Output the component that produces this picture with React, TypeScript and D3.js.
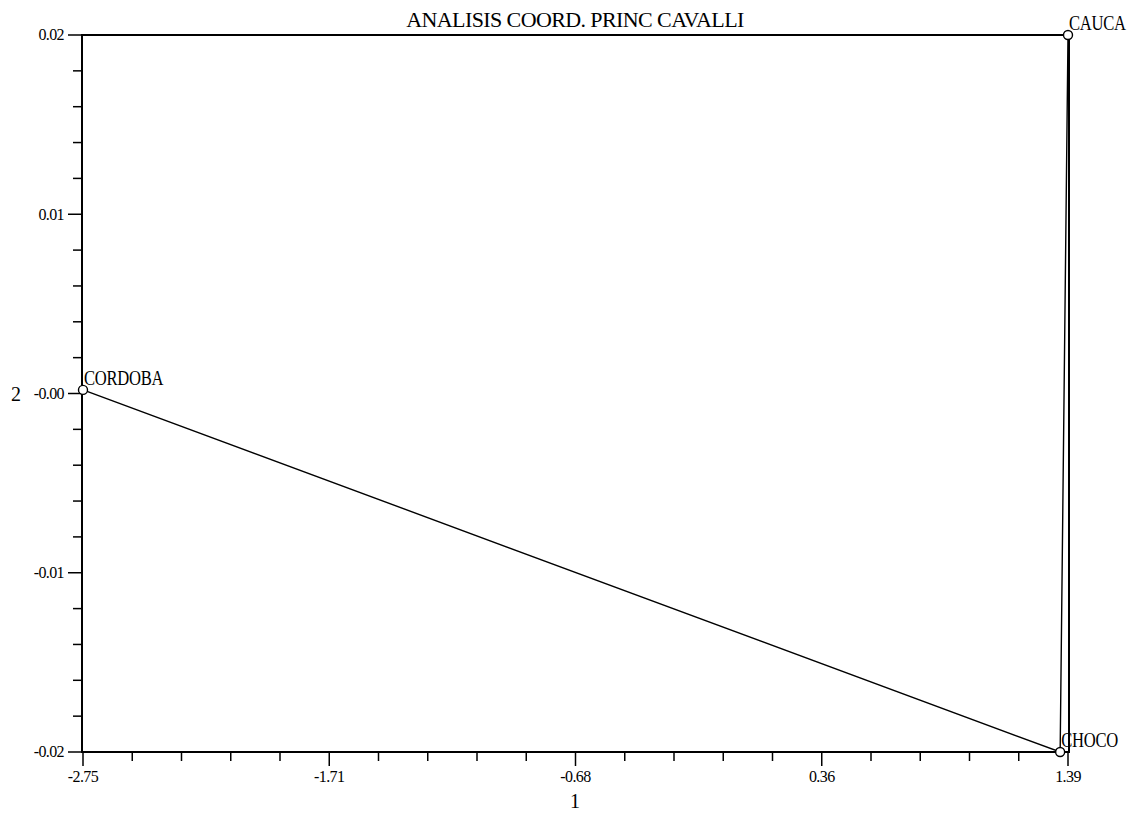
import React from "react";
import * as d3 from "d3";

const title = "ANALISIS COORD. PRINC CAVALLI";
const names = ["CORDOBA", "CHOCO", "CAUCA"];
const dim1 = [-2.75, 1.357, 1.39];
const dim2 = [0.0002, -0.02, 0.02];
const xTicks = [-2.75, -1.715, -0.68, 0.355, 1.39];
const xTickLabels = ["-2.75", "-1.71", "-0.68", "0.36", "1.39"];
const yTicks = [0.02, 0.01, 0.0, -0.01, -0.02];
const yTickLabels = ["0.02", "0.01", "-0.00", "-0.01", "-0.02"];
const xTitle = "1";
const yTitle = "2";

export default function App() {
	const width = 1141;
	const height = 815;
	const left = 83;
	const right = 1068;
	const top = 35;
	const bottom = 752;
	const font = "'Liberation Serif', 'Times New Roman', serif";

	const x = d3.scaleLinear().domain([-2.75, 1.39]).range([left, right]);
	const y = d3.scaleLinear().domain([-0.02, 0.02]).range([bottom, top]);

	// minor ticks: 5 per major interval
	const xMinor = d3.range(21).map((i) => -2.75 + (i * (1.39 + 2.75)) / 20);
	const yMinor = d3.range(21).map((i) => -0.02 + (i * 0.04) / 20);

	const points: [number, number][] = dim1.map((d, i) => [x(d), y(dim2[i])]);
	const line = d3.line();
	const pathD = line(points);

	return (
		<svg
			width={width}
			height={height}
			style={{ position: "absolute", left: 0, top: 0, background: "#fff" }}
			fontFamily={font}
		>
			<rect width={width} height={height} fill="#fff" />
			{/* title */}
			<text
				x={575}
				y={27}
				textAnchor="middle"
				fontSize={22}
				letterSpacing={-0.6}
				fill="#000"
			>
				{title}
			</text>

			{/* frame */}
			<rect
				x={left - 1}
				y={top}
				width={right - left + 2}
				height={bottom - top}
				fill="none"
				stroke="#000"
				strokeWidth={2}
			/>

			{/* y axis ticks */}
			<g stroke="#000" strokeWidth={1.5}>
				{yMinor.map((t, i) => (
					<line
						key={i}
						x1={i % 5 === 0 ? 68 : 73}
						x2={left - 1}
						y1={y(t)}
						y2={y(t)}
					/>
				))}
			</g>
			<g fontSize={16} letterSpacing={-0.6} fill="#000">
				{yTicks.map((t, i) => (
					<text key={i} x={64} y={y(t)} dy="0.34em" textAnchor="end">
						{yTickLabels[i]}
					</text>
				))}
			</g>
			<text x={16} y={y(0)} dy="0.35em" textAnchor="middle" fontSize={20}>
				{yTitle}
			</text>

			{/* x axis ticks */}
			<g stroke="#000" strokeWidth={1.5}>
				{xMinor.map((t, i) => (
					<line
						key={i}
						x1={x(t)}
						x2={x(t)}
						y1={bottom}
						y2={i % 5 === 0 ? bottom + 14 : bottom + 9}
					/>
				))}
			</g>
			<g fontSize={16} letterSpacing={-0.6} fill="#000">
				{xTicks.map((t, i) => (
					<text key={i} x={x(t)} y={782} textAnchor="middle">
						{xTickLabels[i]}
					</text>
				))}
			</g>
			<text x={575} y={808} textAnchor="middle" fontSize={20}>
				{xTitle}
			</text>

			{/* data line */}
			<path d={pathD || undefined} fill="none" stroke="#000" strokeWidth={1.4} />

			{/* points and labels */}
			<g>
				{points.map((p, i) => (
					<g key={names[i]}>
						<circle
							cx={p[0]}
							cy={p[1]}
							r={4.5}
							fill="#fff"
							stroke="#000"
							strokeWidth={1.4}
						/>
						<text
							transform={`translate(${p[0] + 1},${p[1] - 5}) scale(0.83,1)`}
							fontSize={20}
							letterSpacing={-0.3}
							fill="#000"
						>
							{names[i]}
						</text>
					</g>
				))}
			</g>
		</svg>
	);
}
